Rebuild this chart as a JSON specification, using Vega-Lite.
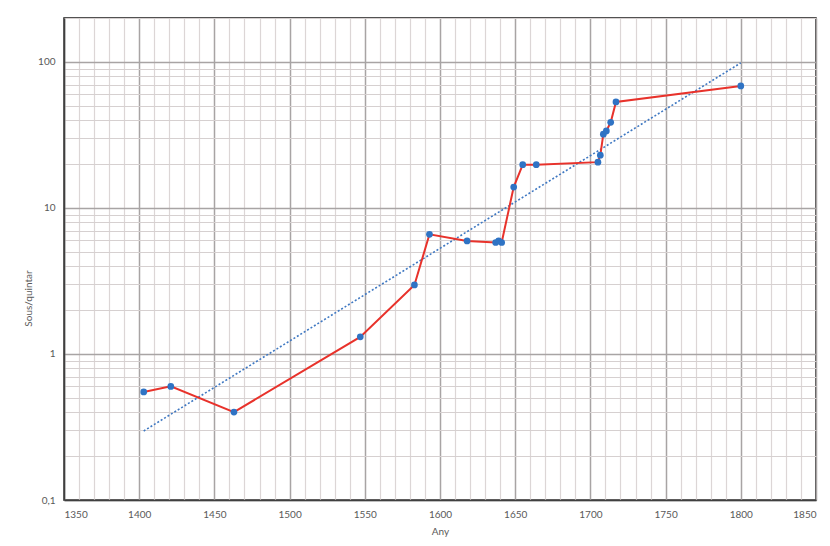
{
  "$schema": "https://vega.github.io/schema/vega-lite/v6.json",
  "width": 752,
  "height": 482,
  "autosize": {"type": "none"},
  "padding": {"left": 64, "top": 18, "right": 14, "bottom": 46},
  "background": "white",
  "config": {
    "view": {"stroke": "#1a1a1a", "strokeWidth": 1.5},
    "font": "Lato",
    "axis": {"labelFont": "Lato", "titleFont": "Lato", "labelFontSize": 10, "titleFontSize": 10, "labelColor": "#595959", "titleColor": "#595959", "titleFontWeight": "normal", "ticks": false, "domain": true, "domainColor": "#404040", "domainWidth": 1.5, "labelOverlap": false}
  },
  "datasets": {
    "prices": [
      {"year": 1403, "value": 0.55},
      {"year": 1421, "value": 0.6},
      {"year": 1463, "value": 0.4},
      {"year": 1547, "value": 1.31},
      {"year": 1583, "value": 2.97},
      {"year": 1593, "value": 6.6},
      {"year": 1618, "value": 5.95},
      {"year": 1637, "value": 5.8},
      {"year": 1639, "value": 5.95},
      {"year": 1641, "value": 5.8},
      {"year": 1649, "value": 13.9},
      {"year": 1655, "value": 19.8},
      {"year": 1664, "value": 19.8},
      {"year": 1705, "value": 20.6},
      {"year": 1706.6, "value": 23},
      {"year": 1708.6, "value": 32},
      {"year": 1710.6, "value": 33.7},
      {"year": 1713.5, "value": 38.6},
      {"year": 1717, "value": 53.2},
      {"year": 1800, "value": 68.5}
    ],
    "trend": [
      {"year": 1403, "value": 0.297},
      {"year": 1800, "value": 98.5}
    ]
  },
  "encoding": {
    "x": {
      "field": "year", "type": "quantitative",
      "scale": {"domain": [1350, 1850], "nice": false, "zero": false},
      "axis": {
        "title": "Any",
        "titleY": 26,
        "format": "d",
        "tickCount": 60,
        "ticks": false,
        "values": [1350,1360,1370,1380,1390,1400,1410,1420,1430,1440,1450,1460,1470,1480,1490,1500,1510,1520,1530,1540,1550,1560,1570,1580,1590,1600,1610,1620,1630,1640,1650,1660,1670,1680,1690,1700,1710,1720,1730,1740,1750,1760,1770,1780,1790,1800,1810,1820,1830,1840,1850],
        "labelExpr": "datum.value % 50 == 0 ? datum.label : ''",
        "labelPadding": 9,
        "gridColor": {"condition": {"test": "datum.value % 50 == 0", "value": "#a8a4a4"}, "value": "#dcd6d6"},
        "gridWidth": {"condition": {"test": "datum.value % 50 == 0", "value": 1.5}, "value": 1.2}
      }
    },
    "y": {
      "field": "value", "type": "quantitative",
      "scale": {"type": "log", "domain": [0.1, 200], "nice": false},
      "axis": {
        "title": "Sous/quintar",
        "titleX": -31,
        "titleY": 280,
        "tickCount": 40,
        "ticks": false,
        "values": [0.1,0.2,0.3,0.4,0.5,0.6,0.7,0.8,0.9,1,2,3,4,5,6,7,8,9,10,20,30,40,50,60,70,80,90,100,200],
        "labelExpr": "datum.value == 0.1 ? '0,1' : (datum.value == 1 || datum.value == 10 || datum.value == 100 ? datum.label : '')",
        "format": "d",
        "labelPadding": 9,
        "gridColor": {"condition": {"test": "datum.value == 0.1 || datum.value == 1 || datum.value == 10 || datum.value == 100", "value": "#a8a4a4"}, "value": "#d6d0d0"},
        "gridWidth": {"condition": {"test": "datum.value == 0.1 || datum.value == 1 || datum.value == 10 || datum.value == 100", "value": 1.5}, "value": 1.2}
      }
    }
  },
  "layer": [
    {
      "data": {"name": "trend"},
      "mark": {"type": "line", "color": "#3f78c2", "strokeWidth": 1.6, "strokeDash": [2, 2]}
    },
    {
      "data": {"name": "prices"},
      "mark": {"type": "line", "color": "#e8322b", "strokeWidth": 2}
    },
    {
      "data": {"name": "prices"},
      "mark": {"type": "circle", "color": "#2f73c4", "opacity": 1, "size": 45}
    }
  ]
}
